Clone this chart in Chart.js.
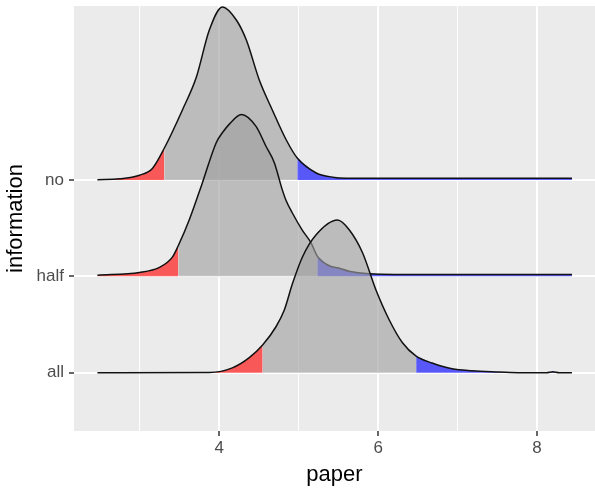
<!DOCTYPE html>
<html><head><meta charset="utf-8">
<script src="https://cdn.jsdelivr.net/npm/chart.js@4"></script>
<style>html,body{margin:0;padding:0;background:#fff}#wrap{width:595px;height:493px}</style>
</head><body><div id="wrap"><canvas id="c" width="595" height="493"></canvas></div>
<script>
// categories (y axis, bottom to top)
const categories = ['all', 'half', 'no'];
const categoryPos = [1, 2, 3];

// x tick values
const xMajorTicks = [4, 6, 8];
const xMinorTicks = [3, 5, 7];

// ridge "no"
const noX = [2.465, 2.742, 2.994, 3.157, 3.308, 3.535, 3.711, 3.874, 4.038, 4.214, 4.340, 4.503, 4.667, 4.843, 4.981, 5.220, 5.384, 5.509, 6.0, 7.0, 8.44];
const noH = [0.003, 0.012, 0.05, 0.12, 0.332, 0.727, 1.069, 1.557, 1.796, 1.661, 1.453, 1.038, 0.727, 0.415, 0.228, 0.073, 0.035, 0.022, 0.018, 0.018, 0.018];
const noQ = [3.308, 4.981];

// ridge "half"
const halfX = [2.465, 2.994, 3.245, 3.409, 3.484, 3.623, 3.786, 3.962, 4.038, 4.126, 4.277, 4.462, 4.587, 4.692, 4.792, 4.839, 4.918, 5.044, 5.153, 5.233, 5.384, 5.509, 5.635, 5.887, 6.64, 7.5, 8.44];
const halfH = [0.012, 0.04, 0.093, 0.2, 0.32, 0.59, 0.97, 1.39, 1.49, 1.58, 1.68, 1.556, 1.35, 1.18, 0.90, 0.79, 0.66, 0.48, 0.35, 0.21, 0.11, 0.085, 0.052, 0.028, 0.018, 0.018, 0.018];
const halfQ = [3.484, 5.233];

// ridge "all"
const allX = [2.465, 3.874, 4.164, 4.377, 4.545, 4.713, 4.818, 4.922, 5.048, 5.216, 5.488, 5.635, 5.803, 5.971, 6.138, 6.306, 6.478, 6.679, 6.931, 7.182, 7.522, 7.8, 8.12, 8.2, 8.28, 8.44];
const allH = [0, 0.002, 0.05, 0.156, 0.287, 0.477, 0.651, 0.928, 1.204, 1.429, 1.585, 1.484, 1.245, 0.861, 0.55, 0.311, 0.172, 0.10, 0.04, 0.02, 0.008, 0, 0, 0.01, 0, 0];
const allQ = [4.545, 6.478];

const RED = 'rgba(255,0,0,0.627)';
const GRAY = 'rgba(160,160,160,0.627)';
const BLUE = 'rgba(0,0,255,0.627)';

function ridge(xs, hs, q, base, ord) {
  const pts = xs.map((x, i) => ({ x: x, y: base + hs[i] }));
  const seg = (lo, hi) => pts.filter(p => p.x >= lo && p.x <= hi);
  const common = { pointRadius: 0, borderWidth: 0, borderColor: 'rgba(0,0,0,0)', cubicInterpolationMode: 'monotone', fill: { value: base } };
  return [
    Object.assign({}, common, { data: seg(-Infinity, q[0]), backgroundColor: RED, order: ord + 1 }),
    Object.assign({}, common, { data: seg(q[0], q[1]), backgroundColor: GRAY, order: ord + 1 }),
    Object.assign({}, common, { data: seg(q[1], Infinity), backgroundColor: BLUE, order: ord + 1 }),
    { data: pts, borderColor: '#111', borderWidth: 1.5, pointRadius: 0, fill: false, cubicInterpolationMode: 'monotone', order: ord }
  ];
}

const datasets = [].concat(
  ridge(noX, noH, noQ, categoryPos[2], 100),
  ridge(halfX, halfH, halfQ, categoryPos[1], 90),
  ridge(allX, allH, allQ, categoryPos[0], 80)
);

const panelBg = {
  id: 'panelBg',
  beforeDraw(chart) {
    const { ctx, chartArea: a } = chart;
    ctx.save();
    ctx.fillStyle = '#EBEBEB';
    ctx.fillRect(a.left, a.top, a.right - a.left, a.bottom - a.top);
    ctx.restore();
  }
};

const FONT = "'Liberation Sans', Arial, sans-serif";
const isMajor = v => xMajorTicks.indexOf(v) >= 0;

new Chart(document.getElementById('c'), {
  type: 'line',
  data: { datasets: datasets },
  plugins: [panelBg],
  options: {
    responsive: false,
    devicePixelRatio: 1,
    animation: false,
    layout: { padding: { top: 6, right: 0, left: 0, bottom: 0 } },
    plugins: { legend: { display: false }, tooltip: { enabled: false } },
    scales: {
      x: {
        type: 'linear',
        min: 2.17, max: 8.73,
        afterBuildTicks: s => { s.ticks = xMinorTicks.concat(xMajorTicks).sort((a, b) => a - b).map(v => ({ value: v })); },
        afterFit: s => { s.height = 62; s.paddingLeft = 0; s.paddingRight = 0; },
        border: { display: false },
        grid: {
          color: '#FFFFFF',
          lineWidth: c => (c.tick && isMajor(c.tick.value)) ? 2 : 1,
          drawTicks: true,
          tickLength: 5,
          tickWidth: 1.5,
          tickColor: c => (c.tick && isMajor(c.tick.value)) ? '#333333' : 'rgba(0,0,0,0)'
        },
        ticks: {
          autoSkip: false, maxRotation: 0,
          padding: 2,
          color: '#4D4D4D',
          font: { family: FONT, size: 17 },
          callback: v => isMajor(v) ? String(v) : ''
        },
        title: { display: true, text: 'paper', color: '#000', font: { family: FONT, size: 22 }, padding: { top: 0, bottom: 5 } }
      },
      y: {
        type: 'linear',
        min: 0.395, max: 4.806,
        afterBuildTicks: s => { s.ticks = categoryPos.map(v => ({ value: v })); },
        afterFit: s => { s.width = 74; s.paddingTop = 0; s.paddingBottom = 0; },
        border: { display: false },
        grid: { color: '#FFFFFF', lineWidth: 2, drawTicks: true, tickLength: 5, tickWidth: 1.5, tickColor: '#333333' },
        ticks: {
          autoSkip: false,
          padding: 5,
          color: '#4D4D4D',
          font: { family: FONT, size: 17 },
          callback: v => categories[categoryPos.indexOf(v)]
        },
        title: { display: true, text: 'information', color: '#000', font: { family: FONT, size: 22 }, padding: { top: 3, bottom: 0 } }
      }
    }
  }
});
</script>
</body></html>
